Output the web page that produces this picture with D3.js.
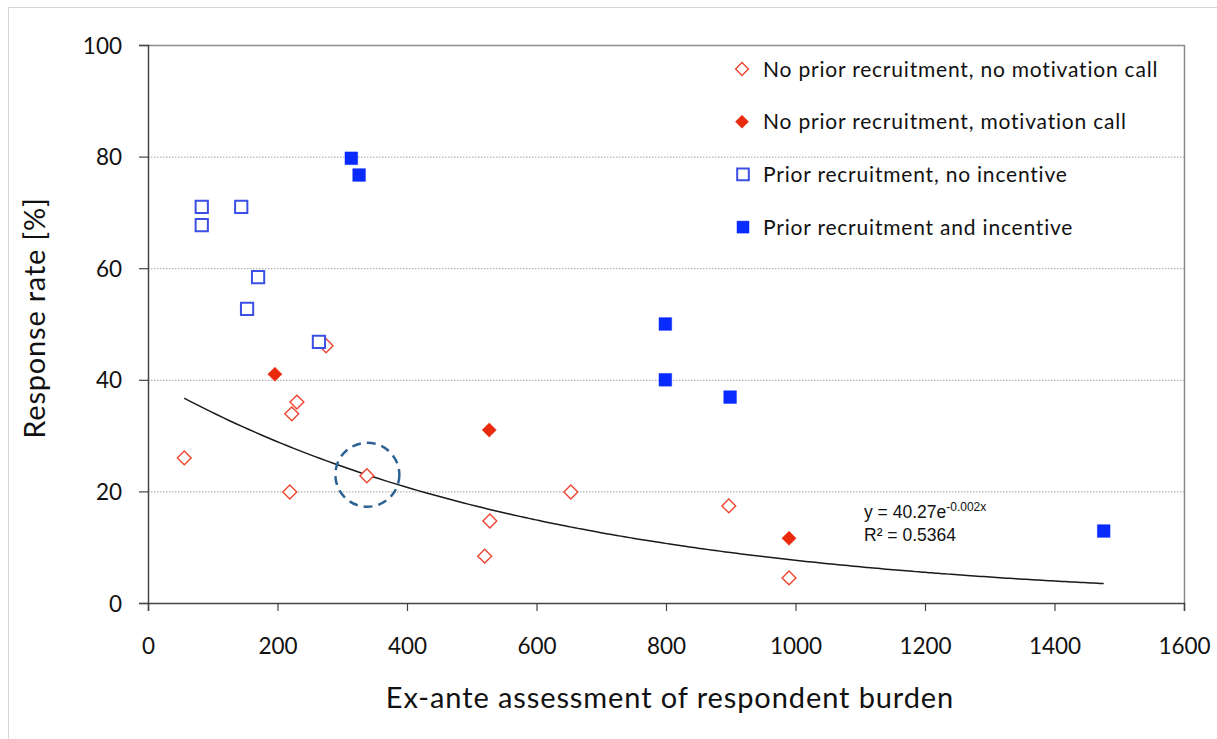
<!DOCTYPE html>
<html>
<head>
<meta charset="utf-8">
<script src="https://d3js.org/d3.v7.min.js"></script>
<style>
  body { margin: 0; background: #fff; }
  svg { display: block; }
</style>
</head>
<body>
<svg id="chart" width="1217" height="739"></svg>
<script>
// series values: [burden, response rate]
const noPriorNoCall = [[56, 26.0], [219, 19.9], [222, 33.9], [230, 36.0], [275, 46.1], [338, 22.8],
  [520, 8.4], [528, 14.7], [653, 19.9], [897, 17.4], [990, 4.5]];
const noPriorCall = [[196, 41.0], [527, 31.0], [990, 11.6]];
const priorNoIncentive = [[83, 71.0], [83, 67.7], [144, 71.0], [170, 58.4], [153, 52.7], [264, 46.8]];
const priorIncentive = [[314, 79.7], [326, 76.7], [799, 50.0], [799, 40.0], [899, 36.9], [1476, 12.9]];

const seriesNames = ["No prior recruitment, no motivation call", "No prior recruitment, motivation call",
  "Prior recruitment, no incentive", "Prior recruitment and incentive"];

const xTicks = [0, 200, 400, 600, 800, 1000, 1200, 1400, 1600];
const yTicks = [0, 20, 40, 60, 80, 100];

// exponential trend y = a * e^(b x), shown in the chart label
const trendA = 40.27;
const trendB = -0.00166;
const trendRange = [56, 1476];
const trendLabel = { a: "40.27", exp: "-0.002x", r2: "0.5364" };
const highlight = [338, 22.8];

const svg = d3.select("#chart");
const margin = { left: 148, right: 1184, top: 45, bottom: 603 };

const x = d3.scaleLinear().domain([0, 1600]).range([margin.left, margin.right]);
const y = d3.scaleLinear().domain([0, 100]).range([margin.bottom, margin.top]);

const font = "Lato, 'Open Sans', sans-serif";

// outer frame (only top and left edges fall inside the picture)
svg.append("rect")
  .attr("x", 8.5).attr("y", 7.5).attr("width", 1300).attr("height", 800)
  .attr("fill", "none").attr("stroke", "#d6d6d6").attr("stroke-width", 1);

// gridlines
svg.append("g").selectAll("line")
  .data(yTicks.filter(d => d > 0 && d < 100))
  .enter().append("line")
  .attr("x1", x(0)).attr("x2", x(1600))
  .attr("y1", d => y(d) + 0.5).attr("y2", d => y(d) + 0.5)
  .attr("stroke", "#a0a0a0").attr("stroke-width", 1).attr("stroke-dasharray", "1.5,1.5");

// top and right border of the plot area
svg.append("path")
  .attr("d", `M${x(0)},${y(100) + 0.5}H${x(1600) + 0.5}V${y(0)}`)
  .attr("fill", "none").attr("stroke", "#8c8c8c").attr("stroke-width", 1.5);

// axes
const xAxis = svg.append("g")
  .attr("transform", `translate(0,${y(0)})`)
  .call(d3.axisBottom(x).tickValues(xTicks).tickSize(8).tickPadding(27).tickFormat(d3.format("d")));
const yAxis = svg.append("g")
  .attr("transform", `translate(${x(0)},0)`)
  .call(d3.axisLeft(y).tickValues(yTicks).tickSize(9).tickPadding(17).tickFormat(d3.format("d")));

[xAxis, yAxis].forEach(a => {
  a.select(".domain").attr("stroke", "#444").attr("stroke-width", 1.5);
  a.selectAll(".tick line").attr("stroke", "#444").attr("stroke-width", 1.2);
  a.selectAll("text").attr("font-family", font).attr("font-size", 22.5).attr("fill", "#111");
});
yAxis.selectAll("text").attr("dy", "0.36em");

// axis titles
svg.append("text")
  .attr("x", x(800) + 4).attr("y", 708)
  .attr("text-anchor", "middle")
  .attr("font-family", font).attr("font-size", 29).attr("letter-spacing", 0.9).attr("fill", "#111")
  .text("Ex-ante assessment of respondent burden");
svg.append("text")
  .attr("transform", `translate(45,${318}) rotate(-90)`)
  .attr("text-anchor", "middle")
  .attr("font-family", font).attr("font-size", 29).attr("letter-spacing", 0.8).attr("fill", "#111")
  .text("Response rate [%]");

// trend curve
const trendData = d3.range(trendRange[0], trendRange[1] + 1, 10).concat([trendRange[1]])
  .map(v => [v, trendA * Math.exp(trendB * v)]);
svg.append("path")
  .datum(trendData)
  .attr("d", d3.line().x(d => x(d[0])).y(d => y(d[1])).curve(d3.curveMonotoneX))
  .attr("fill", "none").attr("stroke", "#1a1a1a").attr("stroke-width", 1.5);

// trend label
const eq = svg.append("text")
  .attr("x", 864).attr("y", 518)
  .attr("font-family", "'Liberation Sans', Arial, sans-serif").attr("font-size", 17.5).attr("fill", "#111");
eq.append("tspan").text("y = " + trendLabel.a + "e");
eq.append("tspan").attr("font-size", 12).attr("dy", -7).text(trendLabel.exp);
svg.append("text")
  .attr("x", 864).attr("y", 541)
  .attr("font-family", "'Liberation Sans', Arial, sans-serif").attr("font-size", 17.5).attr("fill", "#111")
  .text("R² = " + trendLabel.r2);

// marker styles
const styles = [
  { shape: "diamond", size: 96, fill: "#fff", stroke: "#ee4530", sw: 1.4 },
  { shape: "diamond", size: 100, fill: "#e8290b", stroke: "#e8290b", sw: 0.5 },
  { shape: "square", size: 150, fill: "#fff", stroke: "#3b4fe4", sw: 2 },
  { shape: "square", size: 160, fill: "#0a2bff", stroke: "#0a2bff", sw: 0.5 }
];
const sym = d3.symbol().type(d3.symbolSquare);

function drawMarkers(data, st) {
  svg.append("g").selectAll("path")
    .data(data)
    .enter().append("path")
    .attr("d", sym.size(st.size)())
    .attr("transform", d => `translate(${x(d[0])},${y(d[1])})` + (st.shape === "diamond" ? " rotate(45)" : ""))
    .attr("fill", st.fill).attr("stroke", st.stroke).attr("stroke-width", st.sw);
}
[noPriorNoCall, noPriorCall, priorNoIncentive, priorIncentive].forEach((s, i) => drawMarkers(s, styles[i]));

// highlight circle
svg.append("circle")
  .attr("cx", x(highlight[0]) + 0.5).attr("cy", y(highlight[1]) - 1)
  .attr("r", 32)
  .attr("fill", "none").attr("stroke", "#2d6294").attr("stroke-width", 2.5)
  .attr("stroke-dasharray", "9,6");

// legend
const legend = svg.append("g").attr("transform", "translate(742,69)");
seriesNames.forEach((name, i) => {
  const st = styles[i];
  const row = legend.append("g").attr("transform", `translate(0,${i * 52.7})`);
  row.append("path")
    .attr("d", sym.size(st.shape === "diamond" ? st.size * 0.85 : st.size * 0.9)())
    .attr("transform", st.shape === "diamond" ? "rotate(45)" : "translate(1,0)")
    .attr("fill", st.fill).attr("stroke", st.stroke).attr("stroke-width", st.sw);
  row.append("text")
    .attr("x", 21).attr("dy", "0.36em")
    .attr("font-family", font).attr("font-size", 21).attr("letter-spacing", 0.8).attr("fill", "#111")
    .text(name);
});
</script>
</body>
</html>
